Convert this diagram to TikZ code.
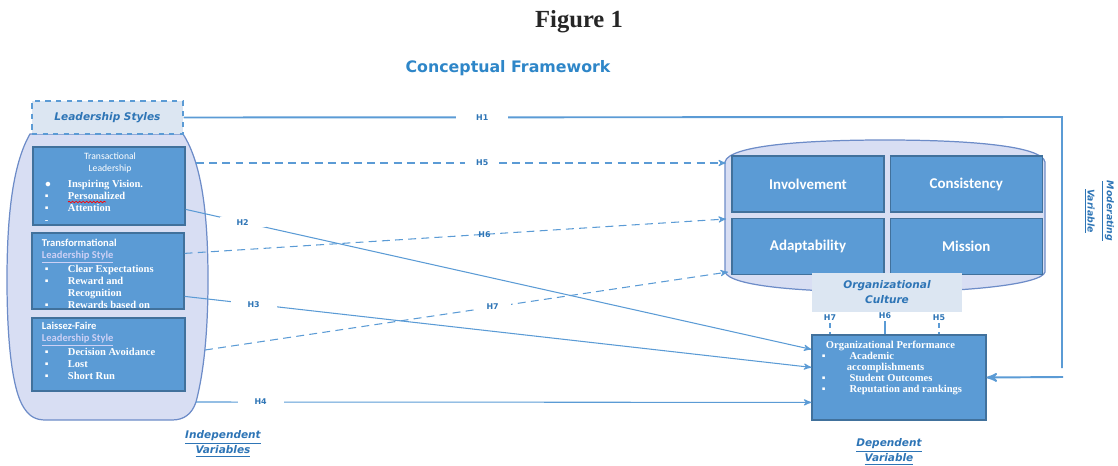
\documentclass[tikz,border=0pt]{standalone}
\usepackage{fontspec}
\usepackage{xcolor}
\usepackage{tikz}
\usetikzlibrary{arrows,positioning,calc,decorations.pathmorphing}
\setmainfont{Liberation Serif}
\newfontfamily\verd{DejaVu Sans}
\newfontfamily\carl{Carlito}
\definecolor{boxfill}{HTML}{5B9BD5}
\definecolor{boxline}{HTML}{41719C}
\definecolor{linkblue}{HTML}{5B9BD5}
\definecolor{labblue}{HTML}{2E75B6}
\definecolor{titleblue}{HTML}{2E86C8}
\definecolor{barrelfill}{HTML}{D8DEF3}
\definecolor{barrelline}{HTML}{6D8CC8}
\definecolor{tissue}{HTML}{DCE6F2}
\definecolor{subline}{HTML}{CDD0F5}
\newdimen\px \px=0.02cm
\newcommand{\bl}[1][23]{\makebox[#1\px][l]{▪}}

\begin{document}
\begin{tikzpicture}[>=stealth', x=0.02cm, y=-0.02cm, line width=0.6pt]
			\tikzstyle{cbox}=[draw=boxline, fill=boxfill, line width=0.7pt, inner sep=0pt]
			\tikzstyle{cell}=[cbox, minimum width=152\px, minimum height=56\px, text=white, font=\carl\bfseries\fontsize{8.5}{10}\selectfont]
			\tikzstyle{bulltext}=[text=white, font=\bfseries\fontsize{6}{6.8}\selectfont, align=left, inner sep=0pt]
			\tikzstyle{hlab}=[font=\verd\bfseries\fontsize{4.5}{5}\selectfont, text=labblue, fill=white, inner ysep=1pt]
			\tikzstyle{vlab}=[font=\verd\bfseries\itshape\fontsize{6}{8.5}\selectfont, text=labblue, align=center]
			\tikzstyle{link}=[draw=linkblue, line width=0.6pt]
			\tikzstyle{dlink}=[link, dash pattern=on 4.5pt off 3pt]
			\tikzstyle{bigline}=[draw=linkblue, line width=1.1pt]
			
			\useasboundingbox (0,0) rectangle (1118,466);
			
			\node[font=\bfseries\fontsize{14}{16}\selectfont, text=black!85] (fig) at (579,22) {Figure 1};
			\node[font=\verd\bfseries\fontsize{9}{10}\selectfont, text=titleblue] (ctitle) at (508,68) {Conceptual Framework};
			
			% leadership styles group
			\draw[draw=barrelline, fill=barrelfill, line width=0.7pt] (30,134) .. controls (12,165) and (7,220) .. (7,280)
				.. controls (7,340) and (12,390) .. (24,408) .. controls (30,417) and (36,420) .. (46,420) -- (172,420)
				.. controls (184,420) and (192,414) .. (196,402) .. controls (204,372) and (208,330) .. (208,280)
				.. controls (208,220) and (203,165) .. (183,134) -- cycle;
			\node[draw=linkblue, dashed, fill=tissue, line width=0.7pt, minimum width=151\px, minimum height=33\px, inner sep=0pt,
				font=\verd\bfseries\itshape\fontsize{6}{7}\selectfont, text=labblue] (lead) at (107.5,117.5) {Leadership Styles};
			
			\node[cbox, minimum width=152\px, minimum height=78\px] (trans) at (109,186) {};
			\node[text=white, font=\carl\fontsize{5.5}{6.8}\selectfont, align=center, inner sep=0pt] (transhead) at (110,163) {Transactional\\Leadership};
			\node[bulltext, below right=33\px and 12\px of trans.north west] (translist)
				{\makebox[23\px][l]{●}Inspiring Vision.\\ \bl Personalized\\ \bl Attention\\ \makebox[23\px][l]{-}};
			\draw[red, line width=0.4pt, decorate, decoration={snake, amplitude=0.45pt, segment length=2pt}] (68,202) -- (106,202);
			
			\node[cbox, minimum width=152\px, minimum height=76\px] (transf) at (108,271) {};
			\node[bulltext, below right=6\px and 10\px of transf.north west] (transflist)
				{{\carl Transformational}\\ {\carl\color{subline}\underline{Leadership Style}}\\
				\hspace*{3\px}\bl Clear Expectations\\ \hspace*{3\px}\bl Reward and\\ \hspace*{26\px}Recognition\\
				\hspace*{3\px}\bl Rewards based on};
			
			\node[cbox, minimum width=153\px, minimum height=73\px] (laissez) at (108.5,354.5) {};
			\node[bulltext, below right=4\px and 10\px of laissez.north west] (laissezlist)
				{{\carl Laissez-Faire}\\ {\carl\color{subline}\underline{Leadership Style}}\\
				\hspace*{3\px}\bl Decision Avoidance\\ \hspace*{3\px}\bl Lost\\ \hspace*{3\px}\bl Short Run};
			
			% organizational culture
			\draw[draw=barrelline, fill=barrelfill, line width=0.7pt] (725,162) .. controls (728,146) and (800,140) .. (885,140)
				.. controls (970,140) and (1042,146) .. (1045,162) -- (1045,272) .. controls (1042,284) and (970,292) .. (885,292)
				.. controls (800,292) and (730,286) .. (725,272) -- cycle;
			\node[cell] (inv) at (808,184) {Involvement};
			\node[cell, right=5\px of inv] (cons) {Consistency};
			\node[cell, below=5\px of inv] (adapt) {Adaptability};
			\node[cell, below=5\px of cons] (mission) {Mission};
			\node[fill=tissue, minimum width=150\px, minimum height=39\px, inner sep=0pt, align=center,
				font=\verd\bfseries\itshape\fontsize{6}{8.5}\selectfont, text=labblue] (culture) at (887,292.5) {Organizational\\Culture};
			
			% organizational performance
			\node[cbox, minimum width=174\px, minimum height=85\px] (perf) at (899,377.5) {};
			\node[bulltext, font=\bfseries\fontsize{6}{6.3}\selectfont, below right=6\px and 10\px of perf.north west] (perflist)
				{\hspace*{4\px}Organizational Performance\\ \bl[25] Academic\\ \hspace*{25\px}accomplishments\\
				\bl[25] Student Outcomes\\ \bl[25] Reputation and rankings};
			
			\node[hlab, fill=none] (h7) at (830,318) {H7};
			\node[hlab, fill=none] (h6) at (885,316) {H6};
			\node[hlab, fill=none] (h5) at (939,318) {H5};
			\draw[link, densely dashed] (h7.south) -- (h7.south |- perf.north);
			\draw[link] (h6.south) -- (h6.south |- perf.north);
			\draw[link, densely dashed] (h5.south) -- (h5.south |- perf.north);
			
			\node[vlab] (indep) at (223,444) {\underline{Independent}\\\underline{Variables}};
			\node[vlab] (dep) at (889,452) {\underline{Dependent}\\\underline{Variable}};
			\node[vlab, font=\verd\bfseries\itshape\fontsize{5.3}{11}\selectfont, rotate=-90] (moder) at (1099,211) {\underline{Moderating}\\\underline{Variable}};
			
			\coordinate (b2) at ($(trans.north east)+(0,63)$);
			\coordinate (b3) at ($(transf.north east)+(0,64)$);
			\coordinate (b6) at ($(transf.north east)+(0,21)$);
			\coordinate (b4) at (196,402);
			\coordinate (b5) at (196,163);
			\coordinate (b7) at (205,350);
			\coordinate (c5) at (726,163);
			\coordinate (c6) at (726,219);
			\coordinate (c7) at (728,272);
			\coordinate (p2) at ($(perf.north west)+(0,15)$);
			\coordinate (p3) at ($(perf.north west)+(0,33)$);
			\coordinate (p4) at ($(perf.north west)+(0,68)$);
			\coordinate (mtop) at (1062,117);
			\coordinate (mbot) at (1062,368);
			\coordinate (mout) at (1063,377);
			
			\draw[bigline] (lead.east) -- node[hlab, pos=0.34, inner xsep=20\px] {H1} (mtop) -- (mbot);
			\draw[bigline, ->] (mout) -- (perf.east);
			
			\path[->]
			
			(b5) edge[dlink] node[hlab, pos=0.54, inner xsep=11\px] {H5} (c5)
			(b6) edge[dlink] node[hlab, fill=none, pos=0.554] {H6} (c6)
			(b7) edge[dlink] node[hlab, pos=0.55, inner xsep=12\px] {H7} (c7)
			(b2) edge[link] node[hlab, pos=0.091, inner xsep=17\px] {H2} (p2)
			(b3) edge[link] node[hlab, pos=0.11, inner xsep=17\px] {H3} (p3)
			(b4) edge[link] node[hlab, pos=0.105, inner xsep=17\px] {H4} (p4);
\end{tikzpicture}
\end{document}
